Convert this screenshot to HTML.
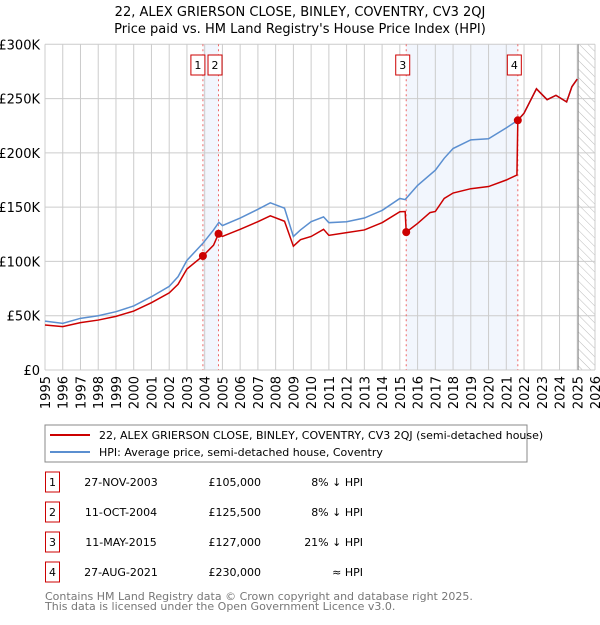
<!DOCTYPE html>
<html><head><meta charset="utf-8"><style>
body{margin:0;background:#fff;font-family:"Liberation Sans","DejaVu Sans",sans-serif;}
svg text{font-family:"DejaVu Sans","Liberation Sans",sans-serif;}
</style></head><body>
<svg id="c" width="600" height="620" xmlns="http://www.w3.org/2000/svg">
<defs><pattern id="hatch" width="6" height="6" patternUnits="userSpaceOnUse" patternTransform="rotate(-45)"><line x1="0" y1="0" x2="0" y2="6" stroke="#bbb" stroke-width="1"/></pattern></defs>
<text x="300" y="16" text-anchor="middle" font-size="13">22, ALEX GRIERSON CLOSE, BINLEY, COVENTRY, CV3 2QJ</text>
<text x="300" y="33" text-anchor="middle" font-size="13">Price paid vs. HM Land Registry's House Price Index (HPI)</text>
<g id="plot"></g>
<rect x="45" y="425" width="482" height="37" fill="#fff" stroke="#888"/>
<line x1="50" y1="435" x2="90" y2="435" stroke="#cc0000" stroke-width="2"/>
<text x="99" y="439" font-size="11">22, ALEX GRIERSON CLOSE, BINLEY, COVENTRY, CV3 2QJ (semi-detached house)</text>
<line x1="50" y1="452" x2="90" y2="452" stroke="#5b8fd0" stroke-width="2"/>
<text x="99" y="456" font-size="11">HPI: Average price, semi-detached house, Coventry</text>
<g id="table" font-size="11"></g>
<text x="45" y="600" font-size="11" fill="#777">Contains HM Land Registry data © Crown copyright and database right 2025.</text>
<text x="45" y="610" font-size="11" fill="#777">This data is licensed under the Open Government Licence v3.0.</text>
</svg>
<script>
const hpiYears=[1995,1996,1997,1998,1999,2000,2001,2002,2002.5,2003,2003.9,2004.5,2004.8,2005,2006,2007,2007.7,2008.5,2009,2009.4,2010,2010.7,2011,2012,2013,2014,2015,2015.3,2016,2017,2017.5,2018,2019,2020,2021,2021.65,2022,2022.7,2023.3,2023.8,2024.4,2024.7,2025];
const hpiValues=[45000,43000,47600,50000,53700,59000,67500,77000,86000,101000,116700,129000,136000,133000,140000,148000,154000,149000,123000,129000,136600,141000,135700,136600,140000,147000,158000,157000,170000,184000,195000,204000,212000,213000,223000,230000,236500,259000,249000,253000,247000,261000,268000];
const priceYears=[1995,1996,1997,1998,1999,2000,2001,2002,2002.5,2003,2003.9,2004.5,2004.78,2005,2006,2007,2007.7,2008.5,2009,2009.4,2010,2010.7,2011,2012,2013,2014,2015,2015.3,2015.36,2016,2016.7,2017,2017.5,2018,2019,2020,2021,2021.6,2021.65,2022,2022.7,2023.3,2023.8,2024.4,2024.7,2025];
const priceValues=[41500,40000,43600,46000,49400,54300,62000,71000,79000,93000,105000,115000,125500,123000,129600,136600,142000,137000,114000,120000,123000,129600,124000,126500,129000,135700,145800,146000,127000,135000,145000,146000,158000,163000,167000,169000,175000,179600,230000,236500,259000,249000,253000,247000,261000,268000];
const saleYears=[2003.9,2004.78,2015.36,2021.65];
const salePrices=[105000,125500,127000,230000];
const saleLabels=["1","2","3","4"];
const saleDates=["27-NOV-2003","11-OCT-2004","11-MAY-2015","27-AUG-2021"];
const salePriceText=["£105,000","£125,500","£127,000","£230,000"];
const saleHpiText=["8% ↓ HPI","8% ↓ HPI","21% ↓ HPI","≈ HPI"];
const yTicks=[0,50000,100000,150000,200000,250000,300000];
const yTickLabels=["£0","£50K","£100K","£150K","£200K","£250K","£300K"];
const xTicks=[1995,1996,1997,1998,1999,2000,2001,2002,2003,2004,2005,2006,2007,2008,2009,2010,2011,2012,2013,2014,2015,2016,2017,2018,2019,2020,2021,2022,2023,2024,2025,2026];

const X0=45,X1=595,Y0=370,Y1=44.3;
const xs=y=>X0+(y-1995)/(2026-1995)*(X1-X0);
const ys=v=>Y0-v/300000*(Y0-Y1);
const NS="http://www.w3.org/2000/svg";
const plot=document.getElementById('plot');
function mk(tag,attrs,parent){const e=document.createElementNS(NS,tag);for(const k in attrs)e.setAttribute(k,attrs[k]);(parent||plot).appendChild(e);return e;}

let e;
e=mk('rect',{x:X0,y:Y1,width:X1-X0,height:Y0-Y1,fill:'#fff'});


for(const [a,b] of [[0,1],[2,3]]){
 e=mk('rect',{x:xs(saleYears[a]),y:Y1,width:xs(saleYears[b])-xs(saleYears[a]),height:Y0-Y1,fill:'#f2f6fd'});
 
 
}
e=mk('rect',{x:xs(2025.05),y:Y1,width:X1-xs(2025.05),height:Y0-Y1,fill:'url(#hatch)'});


yTicks.forEach((t,i)=>{
 e=mk('line',{x1:X0,x2:X1,y1:ys(t),y2:ys(t),stroke:'#ccc'});
 
 
 e=mk('text',{x:40,y:ys(t)+5,'text-anchor':'end','font-size':13});
 e.textContent=yTickLabels[i];
 
 
});
xTicks.forEach(t=>{
 e=mk('line',{x1:xs(t),x2:xs(t),y1:Y1,y2:Y0,stroke:'#ccc'});
 
 
 e=mk('text',{x:0,y:0,'font-size':13,'text-anchor':'end',transform:`translate(${xs(t)+5},${Y0+6}) rotate(-90)`});
 e.textContent=t;
 
 
});
e=mk('line',{x1:xs(2025.05),x2:xs(2025.05),y1:Y1,y2:Y0,stroke:'#888'});


saleYears.forEach((s,i)=>{
 e=mk('line',{x1:xs(s),x2:xs(s),y1:Y1,y2:Y0,stroke:'#e66','stroke-dasharray':'2,3'});
 
 
 const bx=(i===0)?xs(s)-12:xs(s)-10.5;
 e=mk('rect',{x:bx,y:55,width:14,height:20,fill:'#fff',stroke:'#c00'});
 
 
 e=mk('text',{x:bx+7,y:69,'text-anchor':'middle','font-size':11});
 e.textContent=saleLabels[i];
 
 
});
e=mk('polyline',{points:hpiYears.map((y,i)=>xs(y)+','+ys(hpiValues[i])).join(' '),fill:'none',stroke:'#5b8fd0','stroke-width':1.5});


e=mk('polyline',{points:priceYears.map((y,i)=>xs(y)+','+ys(priceValues[i])).join(' '),fill:'none',stroke:'#cc0000','stroke-width':1.5});


saleYears.forEach((s,i)=>{
 e=mk('circle',{cx:xs(s),cy:ys(salePrices[i]),r:4,fill:'#cc0000'});
 
 
});
const tbl=document.getElementById('table');
saleLabels.forEach((l,i)=>{
 const y=483+i*30;
 e=mk('rect',{x:45.5,y:y-11,width:14,height:20,fill:'#fff',stroke:'#c00'},tbl);
 
 
 e=mk('text',{x:52.5,y:y+3,'text-anchor':'middle'},tbl);e.textContent=l;
 
 
 e=mk('text',{x:121,y:y+3,'text-anchor':'middle'},tbl);e.textContent=saleDates[i];
 
 
 e=mk('text',{x:261,y:y+3,'text-anchor':'end'},tbl);e.textContent=salePriceText[i];
 
 
 e=mk('text',{x:363,y:y+3,'text-anchor':'end'},tbl);e.textContent=saleHpiText[i];
 
 
});
</script>
</body></html>
